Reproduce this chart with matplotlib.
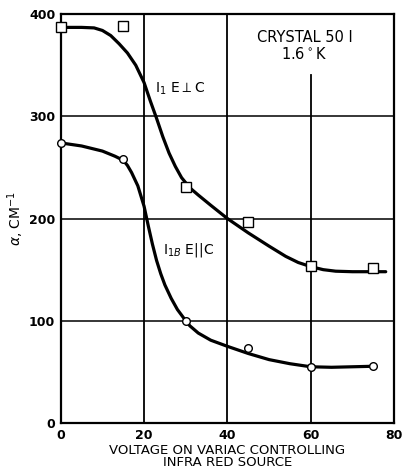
import numpy as np
import matplotlib.pyplot as plt

# measured points (voltage, alpha cm^-1)
sq_x = [0, 15, 30, 45, 60, 75]
sq_y = [387, 388, 231, 197, 154, 152]
ci_x = [0, 15, 30, 45, 60, 75]
ci_y = [274, 258, 100, 73, 55, 56]

# hand-drawn smooth curves
up_x = [0, 5, 8, 10, 12, 14, 16, 18, 20, 21.5, 23, 24.5, 26, 27.5, 29, 30,
        31, 33, 36, 40, 45, 50, 54, 57, 60, 63, 66, 70, 74, 78]
up_y = [387, 387, 386.5, 384, 379, 371, 362, 350, 333, 315, 298, 280, 264,
        251, 240, 235, 230, 223, 213, 200, 186, 173, 163, 157, 153, 150,
        148.5, 148, 148, 148]
lo_x = [0, 5, 10, 13, 15, 16, 17, 18.5, 20, 21, 22, 23, 24, 25, 26.5, 28,
        30, 31, 33, 36, 40, 45, 50, 55, 60, 65, 70, 75]
lo_y = [274, 271, 266, 261, 257, 252, 245, 232, 212, 193, 175, 159, 146,
        135, 122, 111, 100, 95, 88, 81, 75, 68, 62, 58, 55, 54.5, 55, 55.5]

xticks = [0, 20, 40, 60, 80]
yticks = [0, 100, 200, 300, 400]

fig = plt.figure(figsize=(4.05, 4.70), dpi=100)
ax = fig.add_axes([0.150, 0.100, 0.823, 0.870])
ax.set_xlim(0, 80)
ax.set_ylim(0, 400)

# grid (hand ruled)
for gy in [100, 200, 300]:
    ax.plot([0, 80], [gy, gy], color='black', lw=1.1, zorder=1)
for gx in [20, 40]:
    ax.plot([gx, gx], [0, 400], color='black', lw=1.3, zorder=1)
ax.plot([60, 60], [0, 340], color='black', lw=1.3, zorder=1)

ax.plot(up_x, up_y, color='black', lw=2.3, solid_capstyle='round',
        solid_joinstyle='round', zorder=2)
ax.plot(lo_x, lo_y, color='black', lw=2.3, solid_capstyle='round',
        solid_joinstyle='round', zorder=2)
ax.plot(sq_x, sq_y, linestyle='none', marker='s', ms=6.5, mfc='white',
        mec='black', mew=1.0, zorder=3, clip_on=False)
ax.plot(ci_x, ci_y, linestyle='none', marker='o', ms=5.5, mfc='white',
        mec='black', mew=1.0, zorder=3, clip_on=False)

for s in ax.spines.values():
    s.set_linewidth(1.6)

ax.set_xticks(xticks)
ax.set_yticks(yticks)
ax.tick_params(length=0, labelsize=9, pad=4)
for lab in ax.get_xticklabels() + ax.get_yticklabels():
    lab.set_fontweight('bold')

ax.text(58.5, 384, 'CRYSTAL 50 I\n1.6$^\\circ$K', ha='center', va='top',
        fontsize=10.5, linespacing=1.05)
ax.text(22.6, 327, r'I$_1$ E$\perp$C', fontsize=10, va='center')
ax.text(24.5, 169, r'I$_{1B}$ E||C', fontsize=10, va='center')

ax.set_ylabel(r'$\alpha$, CM$^{-1}$', fontsize=10, labelpad=2)
ax.yaxis.set_label_coords(-0.105, 0.50)
ax.set_xlabel('VOLTAGE ON VARIAC CONTROLLING\nINFRA RED SOURCE', fontsize=9.5,
              linespacing=0.9, labelpad=2)

fig.savefig('out.png', dpi=100)
